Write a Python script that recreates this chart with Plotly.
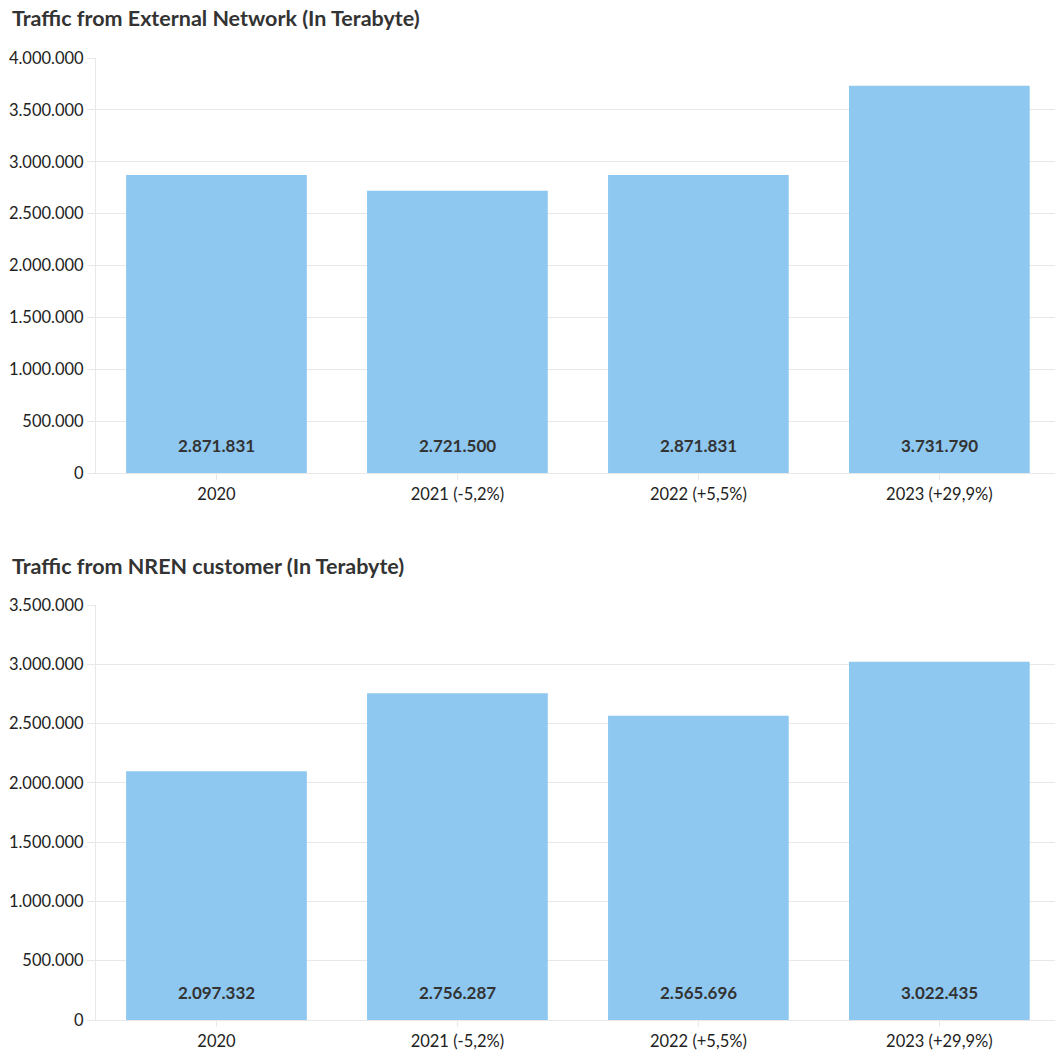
import plotly.graph_objects as go

# Category labels and yearly traffic volumes (terabytes)
categories = ["2020", "2021 (-5,2%)", "2022 (+5,5%)", "2023 (+29,9%)"]
external_traffic = [2871831, 2721500, 2871831, 3731790]
nren_traffic = [2097332, 2756287, 2565696, 3022435]

titles = ["Traffic from External Network (In Terabyte)",
          "Traffic from NREN customer (In Terabyte)"]
y_max = [4000000, 3500000]

W, H = 1055, 1051
FONT = "Lato, 'Noto Sans', sans-serif"
BAR_COLOR = "#8ec8f0"
GRID = "#e8e8e8"

# Pixel layout of the two panels: (top, bottom) of each plot area
panels = [(58, 473), (605, 1020)]
title_y = [18, 566]
x_left = 96

fig = go.Figure()
annotations = []

for i, (vals, (top, bot)) in enumerate(zip([external_traffic, nren_traffic], panels)):
    xa = "x" if i == 0 else "x2"
    ya = "y" if i == 0 else "y2"
    fig.add_trace(go.Bar(
        x=categories, y=vals, xaxis=xa, yaxis=ya,
        marker=dict(color=BAR_COLOR, line=dict(width=0)),
        hoverinfo="skip", showlegend=False,
    ))
    # value labels at the foot of each bar (x given as category index)
    for k, v in enumerate(vals):
        annotations.append(dict(
            x=k, y=0, xref=xa, yref=ya, text=f"{v:,}".replace(",", "."),
            showarrow=False, yanchor="bottom", yshift=15,
            font=dict(family=FONT, size=17, color="#333333", weight="bold"),
        ))
    # panel title
    annotations.append(dict(
        x=10 / W, y=1 - title_y[i] / H, xref="paper", yref="paper",
        xanchor="left", yanchor="middle", showarrow=False,
        text=f"<b>{titles[i]}</b>",
        font=dict(family=FONT, size=21.5, color="#333333"),
    ))

    dom_y = [1 - bot / H, 1 - top / H]
    xkey = "xaxis" if i == 0 else "xaxis2"
    ykey = "yaxis" if i == 0 else "yaxis2"
    fig.update_layout(**{
        xkey: dict(
            type="category",
            domain=[x_left / W, 1], anchor=ya, range=[-0.5, 3.48],
            showgrid=False, showline=True, linecolor=GRID, linewidth=1,
            ticks="outside", ticklen=6, tickcolor=GRID,
            tickfont=dict(family=FONT, size=16.5, color="#222222"),
            automargin=False, fixedrange=True,
        ),
        ykey: dict(
            domain=dom_y, anchor=xa, range=[0, y_max[i]], dtick=500000,
            tickformat=",d", showgrid=True, gridcolor=GRID, gridwidth=1,
            zeroline=False, showline=True, linecolor=GRID, linewidth=1,
            ticks="outside", ticklen=8, tickcolor=GRID,
            tickfont=dict(family=FONT, size=16.5, color="#222222"),
            automargin=False, fixedrange=True,
        ),
    })

fig.update_layout(
    width=W, height=H,
    margin=dict(l=0, r=0, t=0, b=0),
    paper_bgcolor="white", plot_bgcolor="white",
    separators=",.",
    bargap=0.25,
    annotations=annotations,
    template="none",
    font=dict(family=FONT),
)

fig.write_html("out.html", config={"displayModeBar": False})
